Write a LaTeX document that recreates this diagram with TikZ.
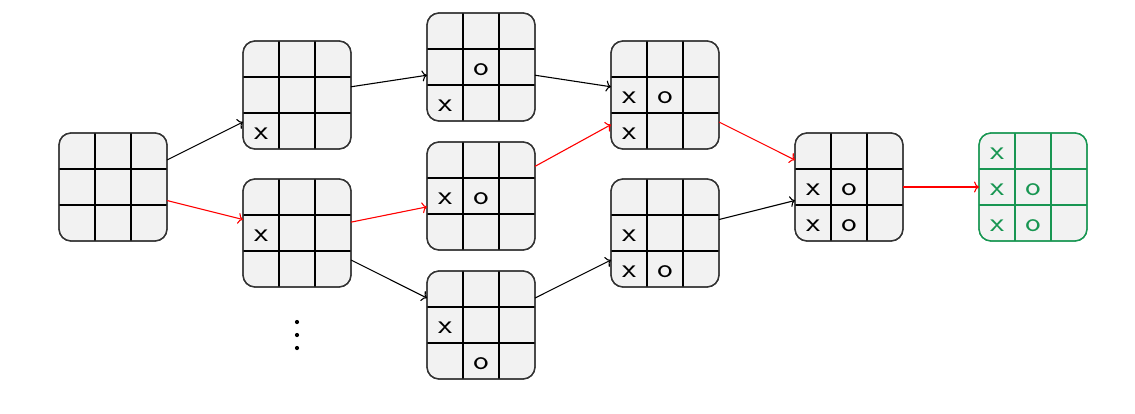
\documentclass[tikz,border=0pt]{standalone}
\usepackage{fontspec}
\usepackage{graphicx}
\usetikzlibrary{arrows.meta}
\definecolor{boardfill}{HTML}{F2F2F2}
\definecolor{edgegray}{HTML}{333333}
\definecolor{wingreen}{RGB}{24,150,82}
\tikzset{
  board/.style={draw=#1, line width=1.3pt, rounded corners=12pt, fill=boardfill,
    minimum width=108pt, minimum height=108pt, inner sep=0pt, outer sep=0pt},
  board/.default=edgegray,
  outline/.style={line width=1.3pt, rounded corners=12pt, draw=#1},
  link/.style={-{To[length=5pt,width=11pt]}, line width=1.1pt},
  winlink/.style={link, draw=red},
  cellmark/.style={font=\fontsize{27}{27}\selectfont\sffamily, inner sep=0pt}
}
% inner 3x3 grid lines of a board node
\newcommand\ttgrid[2]{%
  \draw[#2, line width=2.6pt]
    ([xshift=-18pt]#1.north) -- ([xshift=-18pt]#1.south)
    ([xshift=18pt]#1.north) -- ([xshift=18pt]#1.south)
    ([yshift=18pt]#1.west) -- ([yshift=18pt]#1.east)
    ([yshift=-18pt]#1.west) -- ([yshift=-18pt]#1.east);}
% a mark in cell (column, row) of a board
\newcommand\ttmark[5]{%
  \path (#1.center) ++({(#2-2)*36},{(#3-2)*36+2.5})
    node[cellmark, text=#4] {\scalebox{1.2}[1]{#5}};}
% board node: name, x, y, outline colour, grid colour
\newcommand\ttboard[5]{%
  \node[board=#4] (#1) at (#2,#3) {};
  \ttgrid{#1}{#5}
  \draw[outline=#4] (#1.north west) rectangle (#1.south east);}
\begin{document}
\begin{tikzpicture}[x=1pt, y=-1pt]
\useasboundingbox (0,0) rectangle (1135,413);

% boards
\ttboard{r}{113}{187}{edgegray}{black}
\ttboard{a}{297}{95}{edgegray}{black}
\ttboard{b}{297}{233}{edgegray}{black}
\ttboard{c}{481}{67}{edgegray}{black}
\ttboard{d}{481}{196}{edgegray}{black}
\ttboard{e}{481}{325}{edgegray}{black}
\ttboard{f}{665}{95}{edgegray}{black}
\ttboard{g}{665}{233}{edgegray}{black}
\ttboard{h}{849}{187}{edgegray}{black}
\ttboard{w}{1033}{187}{wingreen}{wingreen}

% marks
\ttmark{a}{1}{3}{black}{x}
\ttmark{b}{1}{2}{black}{x}
\ttmark{c}{2}{2}{black}{o}
\ttmark{c}{1}{3}{black}{x}
\ttmark{d}{1}{2}{black}{x}
\ttmark{d}{2}{2}{black}{o}
\ttmark{e}{1}{2}{black}{x}
\ttmark{e}{2}{3}{black}{o}
\ttmark{f}{1}{2}{black}{x}
\ttmark{f}{2}{2}{black}{o}
\ttmark{f}{1}{3}{black}{x}
\ttmark{g}{1}{2}{black}{x}
\ttmark{g}{1}{3}{black}{x}
\ttmark{g}{2}{3}{black}{o}
\ttmark{h}{1}{2}{black}{x}
\ttmark{h}{2}{2}{black}{o}
\ttmark{h}{1}{3}{black}{x}
\ttmark{h}{2}{3}{black}{o}
\ttmark{w}{1}{1}{wingreen}{x}
\ttmark{w}{1}{2}{wingreen}{x}
\ttmark{w}{2}{2}{wingreen}{o}
\ttmark{w}{1}{3}{wingreen}{x}
\ttmark{w}{2}{3}{wingreen}{o}

% moves
\draw[link] (r) -- (a);
\draw[winlink] (r) -- (b);
\draw[link] (a) -- (c);
\draw[winlink] (b) -- (d);
\draw[link] (b) -- (e);
\draw[link] (c) -- (f);
\draw[winlink] (d) -- (f);
\draw[link] (e) -- (g);
\draw[winlink] (f) -- (h);
\draw[link] (g) -- (h);
\draw[winlink] (h) -- (w);

% further branches omitted
\foreach \yy in {322,335,348}
  \fill (297,\yy) circle (2.1pt);
\end{tikzpicture}
\end{document}
